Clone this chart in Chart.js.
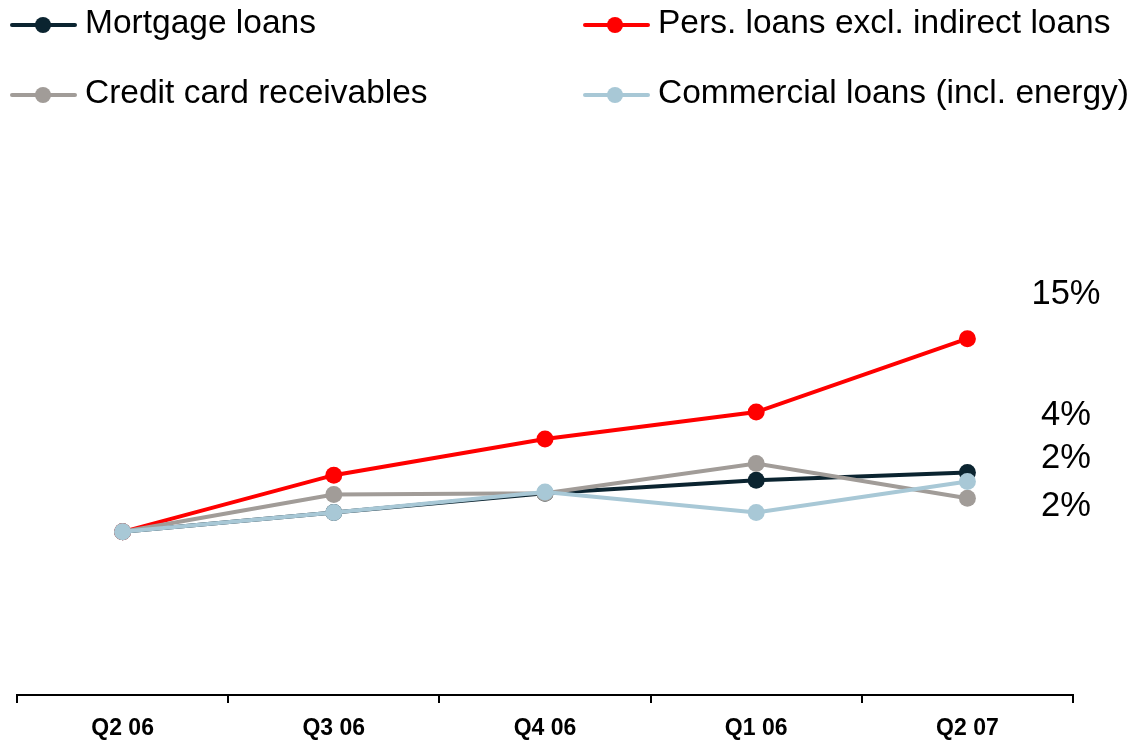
<!DOCTYPE html>
<html>
<head>
<meta charset="utf-8">
<script src="https://cdn.jsdelivr.net/npm/chart.js@4.4.1/dist/chart.umd.min.js"></script>
<style>
  html, body { margin: 0; padding: 0; background: #ffffff; }
  #wrap { width: 1138px; height: 741px; position: relative; }
</style>
</head>
<body>
<div id="wrap"><canvas id="c" width="1138" height="741"></canvas></div>
<script>
// Quarters on the x axis
const quarters = ['Q2 06', 'Q3 06', 'Q4 06', 'Q1 06', 'Q2 07'];

// Volume index per segment (Q2 06 = 100)
const mortgageLoans   = [100, 101.5, 103.0, 104.0, 104.6];
const personalLoans   = [100, 104.4, 107.2, 109.3, 115.0];
const creditCards     = [100, 102.9, 103.0, 105.3, 102.6];
const commercialLoans = [100, 101.5, 103.1, 101.5, 103.9];

// Growth labels printed at the right-hand side
const growthLabels = ['15%', '4%', '2%', '2%'];
const growthLabelY = [294, 415, 458, 506];

const seriesNames = [
  'Mortgage loans',
  'Pers. loans excl. indirect loans',
  'Credit card receivables',
  'Commercial loans (incl. energy)'
];
const seriesColors = ['#0b2430', '#ff0000', '#a19c98', '#a8c8d6'];
// drawing order: lower value is painted later (on top)
const seriesOrder = [3, 2, 1, 0];

const FONT = '"Liberation Sans", Arial, Helvetica, sans-serif';

function makeDataset(i, values) {
  return {
    label: seriesNames[i],
    data: values,
    borderColor: seriesColors[i],
    backgroundColor: seriesColors[i],
    pointBackgroundColor: seriesColors[i],
    pointBorderColor: seriesColors[i],
    pointBorderWidth: 0,
    pointRadius: 8.5,
    pointHoverRadius: 8.5,
    borderWidth: 4,
    tension: 0,
    fill: false,
    order: seriesOrder[i]
  };
}

// Two-column legend across the top of the canvas
const legendPlugin = {
  id: 'twoColumnLegend',
  afterDraw(chart) {
    const ctx = chart.ctx;
    const cols = [{ x0: 12, x1: 75, mx: 43, tx: 85 }, { x0: 585, x1: 648, mx: 615, tx: 658 }];
    const rows = [25, 95];
    ctx.save();
    chart.data.datasets.forEach((ds, i) => {
      const col = cols[i % 2];
      const cy = rows[Math.floor(i / 2)];
      ctx.strokeStyle = ds.borderColor;
      ctx.lineWidth = 4;
      ctx.lineCap = 'round';
      ctx.beginPath();
      ctx.moveTo(col.x0, cy);
      ctx.lineTo(col.x1, cy);
      ctx.stroke();
      ctx.fillStyle = ds.borderColor;
      ctx.beginPath();
      ctx.arc(col.mx, cy, 8, 0, Math.PI * 2);
      ctx.fill();
      ctx.fillStyle = '#000000';
      ctx.font = '33.5px ' + FONT;
      ctx.textBaseline = 'middle';
      ctx.textAlign = 'left';
      ctx.fillText(ds.label, col.tx, cy - 1);
    });
    ctx.restore();
  }
};

// Growth percentages beside the last quarter
const growthPlugin = {
  id: 'growthLabels',
  afterDraw(chart) {
    const ctx = chart.ctx;
    ctx.save();
    ctx.fillStyle = '#000000';
    ctx.font = '34.5px ' + FONT;
    ctx.textAlign = 'center';
    ctx.textBaseline = 'middle';
    growthLabels.forEach((t, i) => ctx.fillText(t, 1066, growthLabelY[i]));
    ctx.restore();
  }
};

new Chart(document.getElementById('c'), {
  type: 'line',
  data: {
    labels: quarters,
    datasets: [
      makeDataset(0, mortgageLoans),
      makeDataset(1, personalLoans),
      makeDataset(2, creditCards),
      makeDataset(3, commercialLoans)
    ]
  },
  options: {
    responsive: false,
    animation: false,
    devicePixelRatio: 1,
    layout: { padding: { top: 130, left: 17, right: 65, bottom: 0 } },
    plugins: {
      legend: { display: false },
      tooltip: { enabled: false }
    },
    scales: {
      x: {
        offset: true,
        grid: {
          display: true,
          offset: true,
          drawOnChartArea: false,
          drawTicks: true,
          tickLength: 8,
          color: '#000000',
          lineWidth: 2
        },
        border: { display: true, color: '#000000', width: 2 },
        ticks: {
          color: '#000000',
          padding: 12,
          font: { family: FONT, size: 23, weight: 'bold' },
          maxRotation: 0,
          autoSkip: false
        },
        afterFit(scale) { scale.height = 46; }
      },
      y: {
        display: false,
        min: 87.33,
        max: 131.2
      }
    }
  },
  plugins: [legendPlugin, growthPlugin]
});
</script>
</body>
</html>
